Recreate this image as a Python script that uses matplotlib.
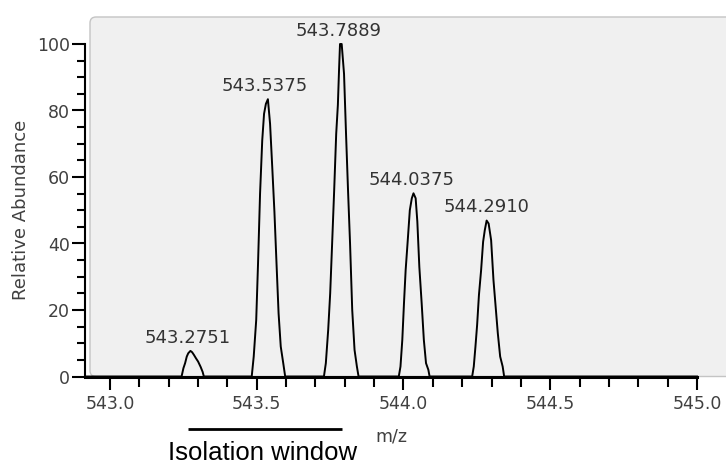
import numpy as np
import matplotlib
matplotlib.use("Agg")
from matplotlib import pyplot as plt
from matplotlib.patches import FancyBboxPatch

# Profile points (m/z, relative abundance), one pair of lists per peak
mz_p1 = [543.2440, 543.2503, 543.2560, 543.2617, 543.2668, 543.2742, 543.2800,
         543.2861, 543.2929, 543.3003, 543.3089, 543.3157, 543.3200]
int_p1 = [0, 2.5, 4.0, 6.0, 7.0, 7.7, 7.3, 6.5, 5.5, 4.5, 2.9, 1.4, 0]

mz_p2 = [543.4830, 543.4898, 543.4983, 543.5045, 543.5114, 543.5188, 543.5250,
         543.5313, 543.5381, 543.5455, 543.5529, 543.5603, 543.5677, 543.5745,
         543.5819, 543.5904, 543.5970]
int_p2 = [0, 6, 17, 34, 55, 71, 79, 82, 83.4, 76, 63, 49.6, 33.5, 19, 9, 4, 0]

mz_p3 = [543.7290, 543.7355, 543.7435, 543.7503, 543.7565, 543.7639, 543.7708,
         543.7765, 543.7804, 543.7838, 543.7895, 543.7975, 543.8043, 543.8111,
         543.8180, 543.8254, 543.8333, 543.8413, 543.8470]
int_p3 = [0, 4, 14, 25, 39, 56, 73, 81.7, 92, 100, 100, 91, 73, 56, 40, 20, 8, 3, 0]

mz_p4 = [543.9840, 543.9898, 543.9960, 544.0017, 544.0074, 544.0142, 544.0216,
         544.0284, 544.0341, 544.0415, 544.0472, 544.0540, 544.0620, 544.0694,
         544.0768, 544.0848, 544.0890]
int_p4 = [0, 3, 11, 22, 32, 40.5, 50, 53.6, 55.1, 53.6, 46.6, 33, 22, 11, 4, 2, 0]

mz_p5 = [544.2340, 544.2395, 544.2452, 544.2509, 544.2571, 544.2645, 544.2713,
         544.2770, 544.2833, 544.2901, 544.2986, 544.3066, 544.3140, 544.3214,
         544.3294, 544.3379, 544.3430]
int_p5 = [0, 3, 9, 15.5, 24.5, 32, 40.5, 44, 46.9, 46, 41, 29, 21, 13, 6, 3, 0]

# scan range shown
mz_range = (542.915, 545.0)

# peak annotations
peak_labels = ["543.2751", "543.5375", "543.7889", "544.0375", "544.2910"]
peak_mz = [543.2751, 543.5375, 543.7889, 544.0375, 544.2910]
peak_height = [7.7, 83.4, 100, 55.1, 46.9]

# isolation window (m/z)
isolation_window = (543.266, 543.792)

plt.rcParams["font.family"] = "DejaVu Sans"

fig = plt.figure(figsize=(7.26, 4.65), dpi=100)

# grey panel behind the spectrum, drawn in pixel units
bg = fig.add_axes([0, 0, 1, 1])
bg.set_xlim(0, 726)
bg.set_ylim(465, 0)
bg.axis("off")
bg.add_patch(FancyBboxPatch((90, 17), 680, 359.5,
                            boxstyle="round,pad=0,rounding_size=6",
                            fc="#f0f0f0", ec="#c4c4c4", lw=1))

ax = fig.add_axes([85 / 726, (465 - 376.5) / 465, 612 / 726, 332.5 / 465])
ax.set_facecolor("none")

mz = np.concatenate([[mz_range[0]], mz_p1, mz_p2, mz_p3, mz_p4, mz_p5, [mz_range[1]]])
inten = np.concatenate([[0], int_p1, int_p2, int_p3, int_p4, int_p5, [0]])
ax.plot(mz, inten, color="k", lw=1.4, clip_on=False)

for lab, x, h in zip(peak_labels, peak_mz, peak_height):
    ax.annotate(lab, xy=(x, h), xytext=(-2, 6), textcoords="offset points",
                ha="center", va="baseline", fontsize=13, color="#333333",
                annotation_clip=False)

ax.set_xlim(*mz_range)
ax.set_ylim(0, 100)

ax.spines["top"].set_visible(False)
ax.spines["right"].set_visible(False)
ax.spines["bottom"].set_linewidth(2.2)
ax.spines["left"].set_linewidth(1.5)

ax.set_xticks(np.arange(543.0, 545.01, 0.5))
ax.set_xticks(np.arange(543.0, 545.01, 0.1), minor=True)
ax.set_yticks(np.arange(0, 101, 20))
ax.set_yticks(np.arange(0, 101, 5), minor=True)
ax.set_xticklabels([f"{v:.1f}" for v in np.arange(543.0, 545.01, 0.5)])

ax.tick_params(axis="x", which="major", length=9, width=1.5, pad=4,
               labelsize=12.5, labelcolor="#404040")
ax.tick_params(axis="x", which="minor", length=7, width=1.5)
ax.tick_params(axis="y", which="major", length=9.5, width=1.5, pad=1.5,
               labelsize=12.5, labelcolor="#404040")
ax.tick_params(axis="y", which="minor", length=6, width=1.5)

ax.set_xlabel("m/z", fontsize=12.5, color="#404040", va="top")
ax.xaxis.set_label_coords(0.5, -0.152)
ax.set_ylabel("Relative Abundance", fontsize=13, color="#404040")
ax.yaxis.set_label_coords(-0.09, 0.5)

# isolation window bar under the axis
ax.plot(isolation_window, [-0.158, -0.158], color="k", lw=2,
        transform=ax.get_xaxis_transform(), clip_on=False, solid_capstyle="butt")
fig.text(262.5 / 726, 0.5 / 465, "Isolation window", fontsize=18.5,
         family="Liberation Sans", ha="center", va="bottom", color="k")

fig.savefig("out.png", dpi=100)
